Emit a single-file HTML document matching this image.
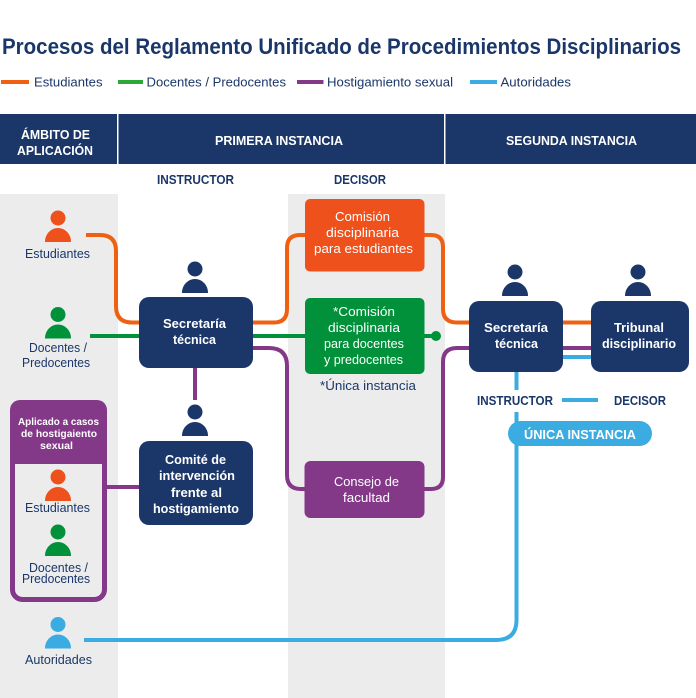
<!DOCTYPE html>
<html lang="es"><head><meta charset="utf-8"><title>Procesos del Reglamento Unificado</title>
<style>
html,body{margin:0;padding:0;background:#fff;width:696px;height:698px;overflow:hidden}
svg{display:block}
text{font-family:"Liberation Sans",sans-serif;font-size:12.5px;fill:#1b3769}
.b{font-weight:bold}
.w{fill:#fff}
.l{fill:none;stroke-width:4}
</style></head><body>
<svg width="696" height="698" viewBox="0 0 696 698" xmlns="http://www.w3.org/2000/svg">
<defs>
<g id="p"><circle cx="0" cy="0" r="7.5"/><path d="M-13 24V23.500A13 13.500 0 0 1 13 23.500V24Z"/></g>
</defs>
<rect width="696" height="698" fill="#fff"/>
<rect x="0" y="194" width="118" height="504" fill="#ececec"/>
<rect x="288" y="194" width="157" height="504" fill="#ececec"/>

<text x="2" y="54" class="b" style="font-size:22px" textLength="679" lengthAdjust="spacingAndGlyphs">Procesos del Reglamento Unificado de Procedimientos Disciplinarios</text>

<rect x="1" y="80" width="28" height="4" fill="#ef6012"/>
<text x="34" y="86.5" textLength="68.5" lengthAdjust="spacingAndGlyphs">Estudiantes</text>
<rect x="118" y="80" width="25" height="4" fill="#2ca836"/>
<text x="146.5" y="86.5" textLength="139.5" lengthAdjust="spacingAndGlyphs">Docentes / Predocentes</text>
<rect x="297" y="80" width="26.5" height="4" fill="#833888"/>
<text x="327" y="86.5" textLength="126" lengthAdjust="spacingAndGlyphs">Hostigamiento sexual</text>
<rect x="470" y="80" width="27" height="4" fill="#3aace2"/>
<text x="500.5" y="86.5" textLength="70.5" lengthAdjust="spacingAndGlyphs">Autoridades</text>

<rect x="0" y="114" width="696" height="50" fill="#1b3769"/>
<rect x="117" y="114" width="1.5" height="50" fill="#fff"/>
<rect x="444" y="114" width="1.5" height="50" fill="#fff"/>
<text x="21" y="139" class="b w" textLength="69" lengthAdjust="spacingAndGlyphs">ÁMBITO DE</text>
<text x="17" y="155" class="b w" textLength="76" lengthAdjust="spacingAndGlyphs">APLICACIÓN</text>
<text x="215" y="145" class="b w" textLength="128" lengthAdjust="spacingAndGlyphs">PRIMERA INSTANCIA</text>
<text x="506" y="145" class="b w" textLength="131" lengthAdjust="spacingAndGlyphs">SEGUNDA INSTANCIA</text>
<text x="157" y="184" class="b" textLength="77" lengthAdjust="spacingAndGlyphs">INSTRUCTOR</text>
<text x="334" y="184" class="b" textLength="52" lengthAdjust="spacingAndGlyphs">DECISOR</text>

<!-- connectors -->
<g class="l">
<path class="l" stroke="#ef6012" d="M86 235H100Q116 235 116 251V306Q116 322.500 132 322.500H140"/>
<path class="l" stroke="#ef6012" d="M252 322.500H274Q287 322.500 287 309V248Q287 235 300 235H306"/>
<path class="l" stroke="#ef6012" d="M423 235H431Q443 235 443 247V309Q443 322.500 457 322.500H592"/>
<path class="l" stroke="#00913a" d="M90 336H306M423 336H436"/>
<path class="l" stroke="#833888" d="M252 348H269Q287 348 287 366V475Q287 489 301 489H306"/>
<path class="l" stroke="#833888" d="M423 489H431Q443 489 443 477V362Q443 348 457 348H592"/>
<path class="l" stroke="#833888" d="M195 367V400"/>
<path class="l" stroke="#833888" d="M106 487H140"/>
<path class="l" stroke="#3aace2" d="M562 357H592"/>
<path class="l" stroke="#3aace2" d="M516.500 371V390"/>
<path class="l" stroke="#3aace2" d="M562 400H598"/>
<path class="l" stroke="#3aace2" d="M516.500 412V620Q516.500 640 496 640H84"/>
</g>
<circle cx="436" cy="336" r="5" fill="#00913a"/>

<!-- nodes -->
<rect x="139" y="297" width="114" height="71" rx="10" fill="#1b3769"/>
<text x="163" y="328" class="b w" textLength="63" lengthAdjust="spacingAndGlyphs">Secretaría</text>
<text x="173" y="344" class="b w" textLength="43" lengthAdjust="spacingAndGlyphs">técnica</text>

<rect x="139" y="441" width="114" height="84" rx="10" fill="#1b3769"/>
<text x="165" y="464" class="b w" textLength="61" lengthAdjust="spacingAndGlyphs">Comité de</text>
<text x="159" y="480" class="b w" textLength="76" lengthAdjust="spacingAndGlyphs">intervención</text>
<text x="171" y="497" class="b w" textLength="51" lengthAdjust="spacingAndGlyphs">frente al</text>
<text x="153" y="513" class="b w" textLength="86" lengthAdjust="spacingAndGlyphs">hostigamiento</text>

<rect x="305" y="199" width="119.500" height="72.500" rx="5" fill="#ee511b"/>
<text x="335" y="221" class="w" textLength="55" lengthAdjust="spacingAndGlyphs">Comisión</text>
<text x="326" y="237" class="w" textLength="73" lengthAdjust="spacingAndGlyphs">disciplinaria</text>
<text x="314" y="253" class="w" textLength="99" lengthAdjust="spacingAndGlyphs">para estudiantes</text>

<rect x="305" y="298" width="119.500" height="76" rx="5" fill="#00913a"/>
<text x="333" y="316" class="w" textLength="62" lengthAdjust="spacingAndGlyphs">*Comisión</text>
<text x="328" y="332" class="w" textLength="72" lengthAdjust="spacingAndGlyphs">disciplinaria</text>
<text x="324" y="348" class="w" textLength="80" lengthAdjust="spacingAndGlyphs">para docentes</text>
<text x="324" y="364" class="w" textLength="79" lengthAdjust="spacingAndGlyphs">y predocentes</text>
<text x="320" y="390" textLength="96" lengthAdjust="spacingAndGlyphs">*Única instancia</text>

<rect x="304.500" y="461" width="120" height="57" rx="6" fill="#833888"/>
<text x="334" y="486" class="w" textLength="65" lengthAdjust="spacingAndGlyphs">Consejo de</text>
<text x="343" y="502" class="w" textLength="47" lengthAdjust="spacingAndGlyphs">facultad</text>

<rect x="469" y="301" width="94" height="71" rx="10" fill="#1b3769"/>
<text x="484" y="332" class="b w" textLength="64" lengthAdjust="spacingAndGlyphs">Secretaría</text>
<text x="495" y="348" class="b w" textLength="43" lengthAdjust="spacingAndGlyphs">técnica</text>

<rect x="591" y="301" width="98" height="71" rx="10" fill="#1b3769"/>
<text x="614" y="332" class="b w" textLength="50" lengthAdjust="spacingAndGlyphs">Tribunal</text>
<text x="602" y="348" class="b w" textLength="74" lengthAdjust="spacingAndGlyphs">disciplinario</text>

<text x="477" y="405" class="b" textLength="76" lengthAdjust="spacingAndGlyphs">INSTRUCTOR</text>
<text x="614" y="405" class="b" textLength="52" lengthAdjust="spacingAndGlyphs">DECISOR</text>
<rect x="508" y="421" width="144" height="25" rx="12.500" fill="#3aace2"/>
<text x="524" y="439" class="b w" textLength="112" lengthAdjust="spacingAndGlyphs">ÚNICA INSTANCIA</text>

<!-- purple group -->
<rect x="12.500" y="402.500" width="92" height="197" rx="10" fill="#ececec" stroke="#833888" stroke-width="5"/>
<path d="M10 464V410A10 10 0 0 1 20 400H97A10 10 0 0 1 107 410V464Z" fill="#833888"/>
<text x="18" y="425" class="b w" style="font-size:10.500px" textLength="81" lengthAdjust="spacingAndGlyphs">Aplicado a casos</text>
<text x="21" y="437" class="b w" style="font-size:10.500px" textLength="76" lengthAdjust="spacingAndGlyphs">de hostigaiento</text>
<text x="40" y="449" class="b w" style="font-size:10.500px" textLength="33" lengthAdjust="spacingAndGlyphs">sexual</text>

<!-- people -->
<use href="#p" x="58" y="218" fill="#ee511b"/>
<use href="#p" x="58" y="314.500" fill="#00913a"/>
<use href="#p" x="58" y="477" fill="#ee511b"/>
<use href="#p" x="58" y="532" fill="#00913a"/>
<use href="#p" x="58" y="624.500" fill="#3aace2"/>
<use href="#p" x="195" y="269" fill="#1b3769"/>
<use href="#p" x="195" y="412" fill="#1b3769"/>
<use href="#p" x="515" y="272" fill="#1b3769"/>
<use href="#p" x="638" y="272" fill="#1b3769"/>

<text x="25" y="258" textLength="65" lengthAdjust="spacingAndGlyphs">Estudiantes</text>
<text x="29" y="352" textLength="58" lengthAdjust="spacingAndGlyphs">Docentes /</text>
<text x="22" y="367" textLength="68" lengthAdjust="spacingAndGlyphs">Predocentes</text>
<text x="25" y="512" textLength="65" lengthAdjust="spacingAndGlyphs">Estudiantes</text>
<text x="29" y="572" textLength="59" lengthAdjust="spacingAndGlyphs">Docentes /</text>
<text x="22" y="583" textLength="68" lengthAdjust="spacingAndGlyphs">Predocentes</text>
<text x="25" y="664" textLength="67" lengthAdjust="spacingAndGlyphs">Autoridades</text>
</svg>
</body></html>
